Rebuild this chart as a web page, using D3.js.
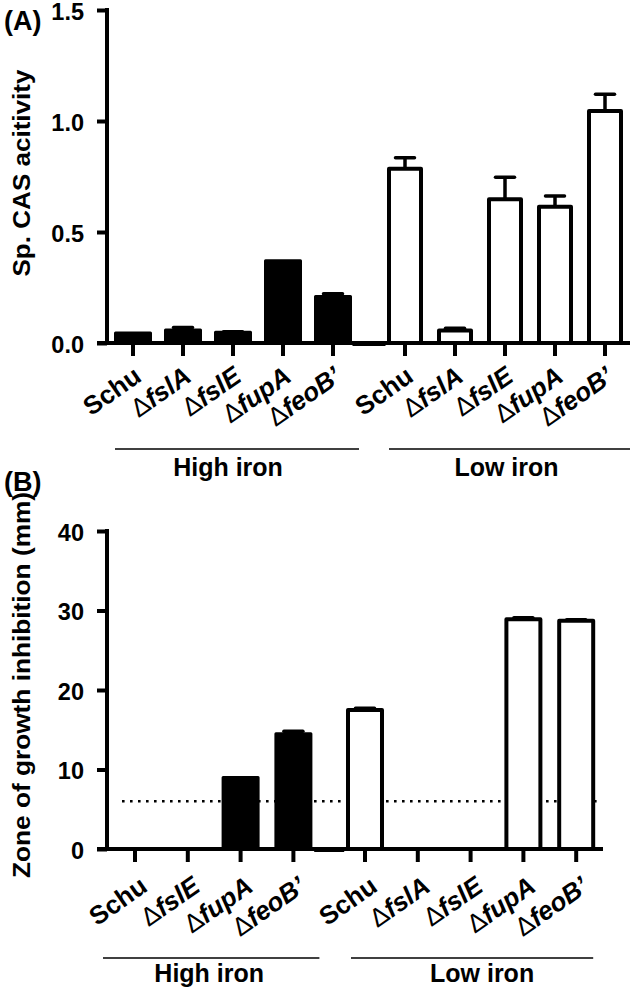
<!DOCTYPE html>
<html><head><meta charset="utf-8">
<script src="https://cdn.jsdelivr.net/npm/d3@7/dist/d3.min.js"></script>
<style>
html,body{margin:0;padding:0;background:#fff;}
svg text{font-family:"Liberation Sans",Arial,sans-serif;fill:#000;}
</style></head>
<body><svg id="chart" width="633" height="988"></svg>
<script>
// ---------- data ----------
const groups = ["High iron", "Low iron"];
// Panel A: specific CAS activity
const strainsA_high = ["Schu", "ΔfslA", "ΔfslE", "ΔfupA", "ΔfeoB’"];
const strainsA_low  = ["Schu", "ΔfslA", "ΔfslE", "ΔfupA", "ΔfeoB’"];
const casHigh    = [0.045, 0.058, 0.048, 0.37, 0.21];
const casHighErr = [0.0, 0.012, 0.003, 0.0, 0.012];
const casLow     = [0.785, 0.056, 0.647, 0.614, 1.045];
const casLowErr  = [0.05, 0.01, 0.10, 0.048, 0.075];
const ticksA = [0, 0.5, 1.0, 1.5];
const yLabelA = "Sp. CAS acitivity";
// Panel B: zone of growth inhibition
const strainsB_high = ["Schu", "ΔfslE", "ΔfupA", "ΔfeoB’"];
const strainsB_low  = ["Schu", "ΔfslA", "ΔfslE", "ΔfupA", "ΔfeoB’"];
const zoneHigh    = [0, 0, 9.0, 14.5];
const zoneHighErr = [0, 0, 0, 0.3];
const zoneLow     = [17.5, 0, 0, 28.9, 28.7];
const zoneLowErr  = [0.2, 0, 0, 0.2, 0.15];
const ticksB = [0, 10, 20, 30, 40];
const cutoffB = 6;
const yLabelB = "Zone of growth inhibition (mm)";

// ---------- drawing ----------
const svg = d3.select("#chart");

function drawPanel(cfg) {
  const g = svg.append("g");
  const nH = cfg.high.length, nL = cfg.low.length;
  const lowStart = nH + cfg.gap;
  const spacerSlot = (nH - 1 + lowStart) / 2;
  const x = d3.scaleLinear().domain([0, 1]).range([cfg.x0, cfg.x0 + cfg.step]);
  const y = d3.scaleLinear().domain(cfg.domain).range([cfg.yBottom, cfg.yTop]);

  const items = [];
  cfg.high.forEach((s, i) => items.push({s, v: cfg.highVals[i], e: cfg.highErr[i], slot: i, open: false}));
  cfg.low.forEach((s, i) => items.push({s, v: cfg.lowVals[i], e: cfg.lowErr[i], slot: lowStart + i, open: true}));

  // cutoff dotted line (behind bars)
  if (cfg.cutoff != null) {
    g.append("line").attr("x1", cfg.cutoffX[0]).attr("x2", cfg.cutoffX[1])
      .attr("y1", y(cfg.cutoff)).attr("y2", y(cfg.cutoff))
      .attr("stroke", "#000").attr("stroke-width", 2.6).attr("stroke-dasharray", "2.6,5.4");
  }

  // y axis
  const yAxis = d3.axisLeft(y).tickValues(cfg.ticks).tickSize(10).tickPadding(13)
    .tickFormat(cfg.fmt);
  const ya = g.append("g").attr("transform", `translate(${cfg.axisX},0)`).call(yAxis);
  ya.select(".domain").attr("d", `M0,${cfg.yTop}V${cfg.yBottom}`).attr("stroke-width", 4).attr("stroke-linecap", "square");
  ya.selectAll(".tick line").attr("stroke-width", 4);
  ya.selectAll(".tick text").attr("dy", "0.4em").style("font-size", "23.5px").style("font-weight", "bold")
    .style("font-family", '"Liberation Sans",Arial,sans-serif');

  // x axis baseline
  g.append("line").attr("x1", cfg.axisX - 10).attr("x2", cfg.xEnd)
    .attr("y1", y(0)).attr("y2", y(0)).attr("stroke", "#000").attr("stroke-width", 4);

  // spacer (empty bar between groups)
  g.append("rect").attr("x", x(spacerSlot) - cfg.spacerW / 2).attr("width", cfg.spacerW)
    .attr("y", y(0) + 1).attr("height", 0.5).attr("fill", "#000").attr("stroke", "#000").attr("stroke-width", 3);

  // x ticks
  g.selectAll(".xt").data(items).enter().append("line")
    .attr("x1", d => x(d.slot)).attr("x2", d => x(d.slot))
    .attr("y1", y(0)).attr("y2", y(0) + 13).attr("stroke", "#000").attr("stroke-width", 4);

  // bars
  g.selectAll(".bar").data(items).enter().append("rect")
    .attr("x", d => x(d.slot) - (d.open ? cfg.openW : cfg.fillW) / 2)
    .attr("width", d => d.open ? cfg.openW : cfg.fillW)
    .attr("y", d => y(d.v)).attr("height", d => y(0) - y(d.v))
    .attr("fill", d => d.open ? "#fff" : "#000")
    .attr("stroke", "#000").attr("stroke-width", d => d.open ? 4 : 3)
    .attr("stroke-linejoin", "round");

  // error bars (upper only)
  const eb = items.filter(d => d.e > 0);
  g.selectAll(".ev").data(eb).enter().append("line")
    .attr("x1", d => x(d.slot)).attr("x2", d => x(d.slot))
    .attr("y1", d => y(d.v)).attr("y2", d => y(d.v + d.e))
    .attr("stroke", "#000").attr("stroke-width", 3.5);
  g.selectAll(".ec").data(eb).enter().append("line")
    .attr("x1", d => x(d.slot) - 9.5).attr("x2", d => x(d.slot) + 9.5)
    .attr("y1", d => y(d.v + d.e)).attr("y2", d => y(d.v + d.e))
    .attr("stroke", "#000").attr("stroke-width", 3.5).attr("stroke-linecap", "round");

  // x labels
  const lab = g.selectAll(".xl").data(items).enter().append("text")
    .attr("text-anchor", "end")
    .attr("transform", d => `translate(${x(d.slot) + cfg.labDx},${y(0) + cfg.labDy}) rotate(-35)`)
    .style("font-size", "26px");
  lab.each(function(d) {
    const t = d3.select(this);
    if (d.s.startsWith("Δ")) {
      t.append("tspan").text("Δ").style("font-weight", "normal").style("font-size", "26px");
      t.append("tspan").text(d.s.slice(1)).style("font-weight", "bold").style("font-style", "italic");
    } else {
      t.append("tspan").text(d.s).style("font-weight", "bold");
    }
  });

  // group underlines & labels
  const gy = y(0) + cfg.groupLineDy;
  const ranges = [
    [x(0) - cfg.hPad[0], x(nH - 1) + cfg.hPad[1]],
    [x(lowStart) - cfg.lPad[0], x(lowStart + nL - 1) + cfg.lPad[1]]
  ];
  groups.forEach((name, i) => {
    g.append("line").attr("x1", ranges[i][0]).attr("x2", ranges[i][1])
      .attr("y1", gy).attr("y2", gy).attr("stroke", "#000").attr("stroke-width", 1.3);
    g.append("text").attr("x", (ranges[i][0] + ranges[i][1]) / 2 + cfg.gLabDx[i])
      .attr("y", gy + cfg.gLabDy).attr("text-anchor", "middle")
      .style("font-size", "25px").style("font-weight", "bold").text(name);
  });

  // y label
  g.append("text").attr("text-anchor", "middle")
    .attr("transform", `translate(${cfg.yLabX},${cfg.yLabY}) rotate(-90)`)
    .attr("textLength", cfg.yLabLen).attr("lengthAdjust", "spacingAndGlyphs")
    .style("font-size", "24px").style("font-weight", "bold").text(cfg.yLabel);

  // panel letter
  g.append("text").attr("x", 4).attr("y", cfg.letterY)
    .style("font-size", "27px").style("font-weight", "bold").text(cfg.letter);
}

drawPanel({
  letter: "(A)", letterY: 30,
  high: strainsA_high, low: strainsA_low,
  highVals: casHigh, highErr: casHighErr, lowVals: casLow, lowErr: casLowErr,
  domain: [0, 1.5], ticks: ticksA, fmt: d3.format(".1f"),
  yTop: 10, yBottom: 343, axisX: 107, xEnd: 630,
  x0: 133, step: 50, gap: 0.44, spacerW: 30,
  fillW: 35, openW: 32,
  labDx: 10, labDy: 37,
  groupLineDy: 106, gLabDy: 27, hPad: [18, 26], lPad: [16, 25], gLabDx: [-9, -3],
  yLabel: yLabelA, yLabX: 30, yLabY: 173, yLabLen: 207,
  cutoff: null
});

drawPanel({
  letter: "(B)", letterY: 491,
  high: strainsB_high, low: strainsB_low,
  highVals: zoneHigh, highErr: zoneHighErr, lowVals: zoneLow, lowErr: zoneLowErr,
  domain: [0, 40], ticks: ticksB, fmt: d3.format("d"),
  yTop: 531, yBottom: 849, axisX: 107, xEnd: 603,
  x0: 135, step: 52.8, gap: 0.356, spacerW: 27,
  fillW: 35, openW: 34,
  labDx: 14, labDy: 41,
  groupLineDy: 109, gLabDy: 24, hPad: [32, 26], lPad: [14, 17], gLabDx: [-2, 10],
  yLabel: yLabelB, yLabX: 30, yLabY: 685, yLabLen: 386,
  cutoff: cutoffB, cutoffX: [122, 600]
});
</script></body></html>
